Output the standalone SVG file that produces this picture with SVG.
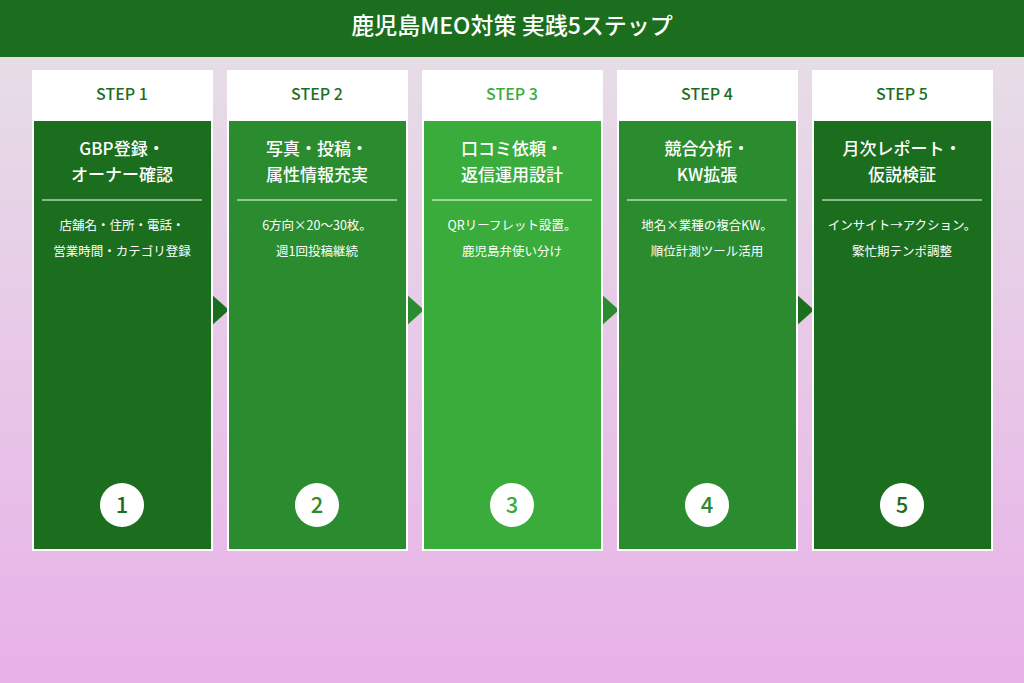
<svg xmlns="http://www.w3.org/2000/svg" width="1024" height="683" viewBox="0 0 1024 683">
<defs>
<linearGradient id="bg" x1="0" y1="0" x2="0" y2="1"><stop offset="0" stop-color="#e6e1e6"/><stop offset="1" stop-color="#e8b1e8"/></linearGradient>
<style>
text{font-family:"Noto Sans CJK JP","Noto Sans",sans-serif;text-anchor:middle}
.card{fill:#fff}
.step{font-size:16px;font-weight:500;fill:#1e6e22}
.ttl{font-size:17px;font-weight:500;fill:#fff}
.desc{font-size:12.5px;fill:#fff}
.num{font-size:22px;font-weight:500}
.sep{stroke:#fff;stroke-width:1}
</style>
</defs>
<rect width="1024" height="683" fill="url(#bg)"/>
<rect width="1024" height="57" fill="#1b6e1e"/>
<text x="512" y="34" style="font-size:23px;font-weight:500;fill:#fff">鹿児島MEO対策 実践5ステップ</text>
<g id="connectors">
<polygon points="210,293 229,310 210,327" fill="#1b6e1e"/>
<polygon points="405,293 424,310 405,327" fill="#2a8c2e"/>
<polygon points="600,293 619,310 600,327" fill="#2a8c2e"/>
<polygon points="795,293 814,310 795,327" fill="#1b6e1e"/>
</g>
<g id="step1"><rect class="card" x="32" y="70" width="181" height="481"/><rect x="34" y="121" width="177" height="428" fill="#1b6e1e"/>
<text class="step" x="122" y="100">STEP 1</text><text class="ttl" x="122" y="155">GBP登録・</text><text class="ttl" x="122" y="181">オーナー確認</text>
<line class="sep" x1="42" y1="200" x2="202" y2="200"/><text class="desc" x="122" y="230">店舗名・住所・電話・</text><text class="desc" x="122" y="256">営業時間・カテゴリ登録</text>
<circle cx="122" cy="505" r="22" fill="#fff"/><text class="num" x="122" y="513" fill="#1b6e1e">1</text></g>
<g id="step2"><rect class="card" x="227" y="70" width="181" height="481"/><rect x="229" y="121" width="177" height="428" fill="#2a8c2e"/>
<text class="step" x="317" y="100">STEP 2</text><text class="ttl" x="317" y="155">写真・投稿・</text><text class="ttl" x="317" y="181">属性情報充実</text>
<line class="sep" x1="237" y1="200" x2="397" y2="200"/><text class="desc" x="317" y="230">6方向×20〜30枚。</text><text class="desc" x="317" y="256">週1回投稿継続</text>
<circle cx="317" cy="505" r="22" fill="#fff"/><text class="num" x="317" y="513" fill="#2a8c2e">2</text></g>
<g id="step3"><rect class="card" x="422" y="70" width="181" height="481"/><rect x="424" y="121" width="177" height="428" fill="#3aac3c"/>
<text class="step" x="512" y="100" style="fill:#3aac3c">STEP 3</text><text class="ttl" x="512" y="155">口コミ依頼・</text><text class="ttl" x="512" y="181">返信運用設計</text>
<line class="sep" x1="432" y1="200" x2="592" y2="200"/><text class="desc" x="512" y="230">QRリーフレット設置。</text><text class="desc" x="512" y="256">鹿児島弁使い分け</text>
<circle cx="512" cy="505" r="22" fill="#fff"/><text class="num" x="512" y="513" fill="#3aac3c">3</text></g>
<g id="step4"><rect class="card" x="617" y="70" width="181" height="481"/><rect x="619" y="121" width="177" height="428" fill="#2a8c2e"/>
<text class="step" x="707" y="100">STEP 4</text><text class="ttl" x="707" y="155">競合分析・</text><text class="ttl" x="707" y="181">KW拡張</text>
<line class="sep" x1="627" y1="200" x2="787" y2="200"/><text class="desc" x="707" y="230">地名×業種の複合KW。</text><text class="desc" x="707" y="256">順位計測ツール活用</text>
<circle cx="707" cy="505" r="22" fill="#fff"/><text class="num" x="707" y="513" fill="#2a8c2e">4</text></g>
<g id="step5"><rect class="card" x="812" y="70" width="181" height="481"/><rect x="814" y="121" width="177" height="428" fill="#1b6e1e"/>
<text class="step" x="902" y="100">STEP 5</text><text class="ttl" x="902" y="155">月次レポート・</text><text class="ttl" x="902" y="181">仮説検証</text>
<line class="sep" x1="822" y1="200" x2="982" y2="200"/><text class="desc" x="902" y="230">インサイト→アクション。</text><text class="desc" x="902" y="256">繁忙期テンポ調整</text>
<circle cx="902" cy="505" r="22" fill="#fff"/><text class="num" x="902" y="513" fill="#1b6e1e">5</text></g>
</svg>
